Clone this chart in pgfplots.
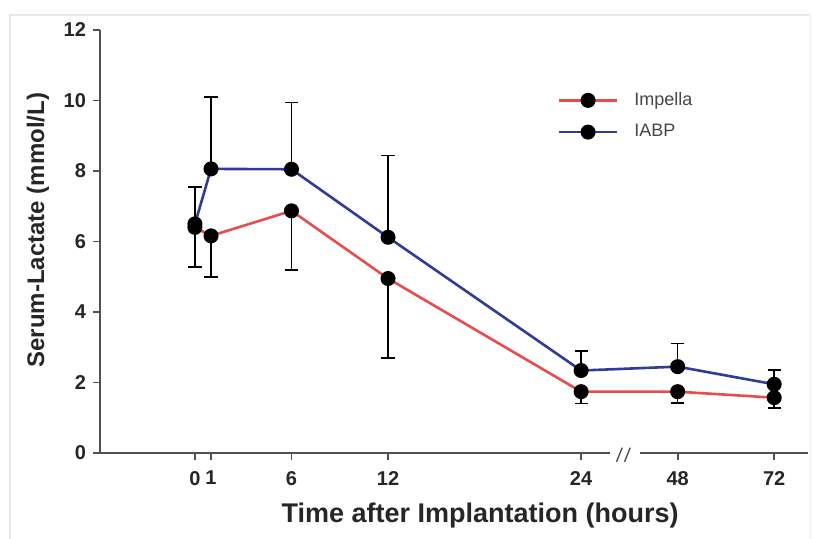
\documentclass[border=0pt]{standalone}
\usepackage{fontspec}
\setmainfont{Liberation Sans}
\usepackage{pgfplots}
\pgfplotsset{compat=1.18}
\definecolor{redline}{RGB}{232,76,76}
\definecolor{blueline}{RGB}{48,60,150}
\definecolor{axgray}{RGB}{80,80,80}
\definecolor{legtext}{RGB}{70,70,70}
\begin{document}
\begin{tikzpicture}[x=1pt,y=1pt]
\path[use as bounding box] (0,0) rectangle (407,269);
\draw[gray!18, line width=1.2pt] (5,-2) -- (5,261.5) -- (405,261.5);
\draw[gray!8, line width=0.8pt] (405,261.5) -- (405,-2);
\begin{axis}[
  at={(50pt,42.5pt)}, anchor=south west,
  scale only axis, width=354pt, height=211.5pt,
  xmin=-5.9, xmax=38.1, ymin=0, ymax=12,
  axis x line*=bottom, axis y line*=left,
  x axis line style={draw=none},
  y axis line style={axgray, line width=1pt},
  xtick={0,1,6,12,24,30,36},
  xticklabels={0,1,6,12,24,48,72},
  ytick={0,2,4,6,8,10,12},
  tick align=outside,
  major tick length=3.5pt,
  tick style={axgray, line width=0.9pt},
  /pgf/number format/assume math mode=true,
  tick label style={font=\bfseries\fontsize{10}{12}\selectfont, text=black!85},
  xticklabel style={yshift=-2pt},
  xlabel={Time after Implantation (hours)},
  ylabel={Serum-Lactate (mmol/L)},
  xlabel style={font=\bfseries\fontsize{13.5}{16}\selectfont, text=black!85, at={(axis description cs:0.537,0)}, anchor=center, yshift=-31.5pt},
  ylabel style={font=\bfseries\fontsize{12}{14}\selectfont, text=black!85, at={(axis description cs:-0.0876,0.527)}, anchor=center},
  clip=false,
  legend style={draw=none, fill=none, at={(axis description cs:0.646,0.863)}, anchor=north west,
    font=\fontsize{9}{11}\selectfont, text=legtext, row sep=4pt, inner sep=0pt,
    /tikz/every odd column/.append style={column sep=6pt}},
  legend cell align=left,
  legend image code/.code={\draw[mark repeat=2,mark phase=2,#1] plot coordinates {(0pt,0pt) (14.5pt,0pt) (29pt,0pt)};},
  error bars/error bar style={black, line width=0.8pt},
  error bars/error mark options={black, line width=0.8pt, mark size=3.3pt, rotate=90},
]
\addplot[redline, line width=1.3pt, mark=*, mark size=3.1pt, mark options={black, fill=black},
  error bars/.cd, y dir=minus, y explicit]
  table[x=x, y=y, y error=e] {
x y e
0 6.40 1.13
1 6.16 1.16
6 6.87 1.68
12 4.95 2.26
24 1.74 0.33
30 1.74 0.32
36 1.57 0.29
};
\addlegendentry{Impella}
\addplot[blueline, line width=1.3pt, mark=*, mark size=3.1pt, mark options={black, fill=black},
  error bars/.cd, y dir=plus, y explicit]
  table[x=x, y=y, y error=e] {
x y e
0 6.50 1.04
1 8.06 2.04
6 8.05 1.89
12 6.12 2.32
24 2.34 0.56
30 2.45 0.66
36 1.95 0.40
};
\addlegendentry{IABP}
\draw[axgray, line width=1pt] (axis cs:-6.1,0) -- (axis cs:25.8,0);
\draw[axgray, line width=1pt] (axis cs:27.67,0) -- (axis cs:38.1,0);
\draw[axgray, line width=0.7pt] (axis cs:26.2,-0.25) -- (axis cs:26.55,0.15);
\draw[axgray, line width=0.7pt] (axis cs:26.7,-0.25) -- (axis cs:27.05,0.15);
\end{axis}
\end{tikzpicture}
\end{document}
